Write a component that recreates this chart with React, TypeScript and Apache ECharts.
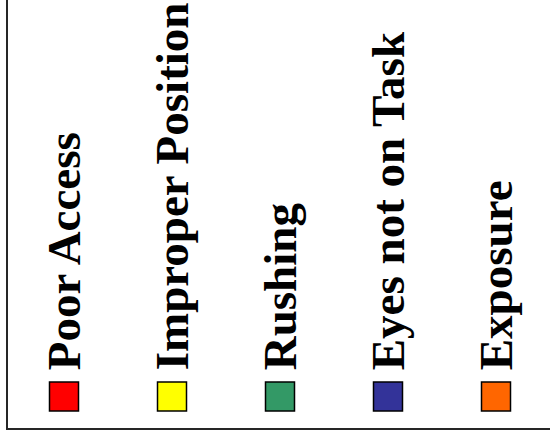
import React, { useEffect, useRef } from "react";
import * as echarts from "echarts";

const categories = ["Poor Access", "Improper Position", "Rushing", "Eyes not on Task", "Exposure"];
const colors = ["#FF0000", "#FFFF00", "#339966", "#333399", "#FF6600"];
const values = [0, 0, 0, 0, 0];

export default function App() {
  const ref = useRef<HTMLDivElement>(null);
  useEffect(() => {
    document.body.style.margin = "0";
    const chart = echarts.init(ref.current!, null, { renderer: "svg" });
    chart.setOption({
      animation: false,
      backgroundColor: "#ffffff",
      grid: { left: 10, width: 542, top: 20, bottom: 47.5 },
      xAxis: {
        type: "category",
        data: categories,
        boundaryGap: true,
        show: false,
      },
      yAxis: { type: "value", min: 0, max: 1, show: false },
      graphic: [
        {
          type: "rect",
          shape: { x: 7, y: -10, width: 600, height: 439 },
          style: { fill: "none", stroke: "#262626", lineWidth: 2 },
          silent: true,
        },
      ],
      series: [
        {
          type: "scatter",
          symbol: "rect",
          symbolSize: 29,
          itemStyle: { opacity: 1 },
          data: values.map((v, i) => ({
            value: v,
            itemStyle: { color: colors[i], borderColor: "#000000", borderWidth: 1.5, opacity: 1 },
          })),
          label: {
            show: true,
            position: "top",
            distance: 11,
            rotate: 90,
            align: "left",
            verticalAlign: "middle",
            formatter: (p: any) => categories[p.dataIndex],
            fontFamily: "'Liberation Serif', 'Times New Roman', serif",
            fontWeight: "bold",
            fontSize: 47,
            color: "#000000",
            opacity: 1,
          },
        },
      ],
    });
    return () => chart.dispose();
  }, []);
  return <div ref={ref} style={{ width: 550, height: 444 }} />;
}
